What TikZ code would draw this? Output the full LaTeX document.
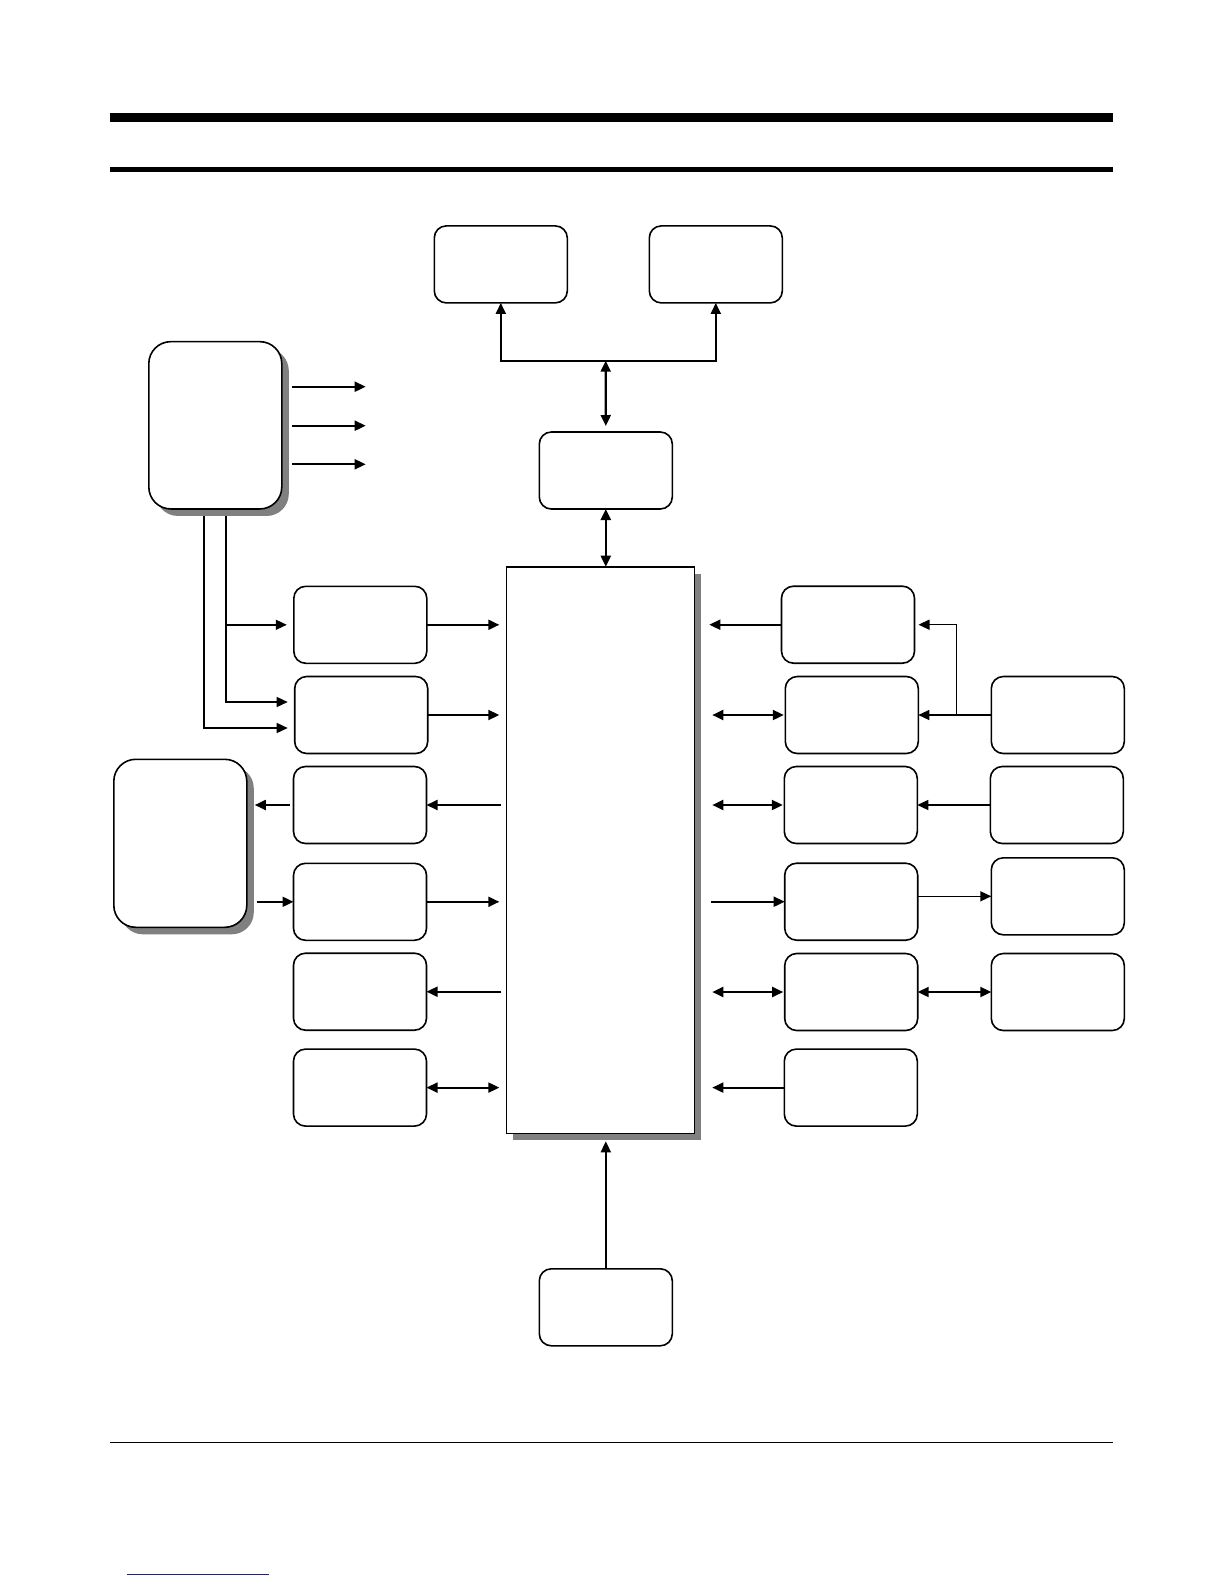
\documentclass[tikz,border=0pt]{standalone}
\usetikzlibrary{arrows.meta,calc,shadows}
\definecolor{shadowgray}{RGB}{128,128,128}
\definecolor{linkblue}{RGB}{30,30,140}
\begin{document}
\begin{tikzpicture}[x=1pt,y=-1pt,
  box/.style={draw, line width=1.6pt, rounded corners=12pt, fill=white,
    minimum width=133pt, minimum height=77pt, inner sep=0pt, outer sep=0pt},
  bigbox/.style={draw, line width=1.6pt, rounded corners=22pt, fill=white,
    minimum width=133pt, minimum height=168pt, inner sep=0pt, outer sep=0pt,
    drop shadow={shadow xshift=7pt, shadow yshift=-7pt, fill=shadowgray, opacity=1}},
  mainbox/.style={draw, line width=1.6pt, fill=white,
    minimum width=188pt, minimum height=566.6pt, inner sep=0pt, outer sep=0pt,
    drop shadow={shadow xshift=7pt, shadow yshift=-7pt, fill=shadowgray, opacity=1}},
  arr/.style={line width=1.9pt, -{Triangle[length=11pt,width=10pt]}},
  darr/.style={line width=2.1pt, {Triangle[length=11pt,width=10pt]}-{Triangle[length=11pt,width=10pt]}},
  thin/.style={line width=1.4pt}
]
\useasboundingbox (0,0) rectangle (1224,1584);
% page rules
\fill (110,113) rectangle (1113,122);
\fill (110,166.7) rectangle (1113,172);
\draw[line width=1.2pt] (110,1442.3) -- (1113,1442.3);
\draw[linkblue, line width=1.5pt] (127,1574.7) -- (269,1574.7);

% nodes
\node[box] (topA) at (500.8,264.4) {};
\node[box] (topB) at (715.8,264.4) {};
\node[box] (C) at (605.8,470.5) {};
\node[mainbox] (main) at (600.3,850) {};
\node[box] (BT) at (605.8,1307.3) {};
\node[bigbox, minimum height=167.3pt] (P) at (215.3,425.3) {};
\node[bigbox] (Q) at (180.3,843.3) {};

\node[box] (L1) at (360.3,624.8) {};
\node[box] (L2) at (361.2,715) {};
\node[box] (L3) at (360,805) {};
\node[box] (L4) at (360,901.8) {};
\node[box] (L5) at (360,991.7) {};
\node[box] (L6) at (360,1087.6) {};

\node[box] (R1) at (848,624.7) {};
\node[box] (R2) at (851.8,715) {};
\node[box] (R3) at (850.8,805) {};
\node[box] (R4) at (851.2,901.7) {};
\node[box] (R5) at (851.2,992) {};
\node[box] (R6) at (850.8,1087.6) {};

\node[box] (RR2) at (1057.8,715) {};
\node[box] (RR3) at (1056.8,805) {};
\node[box] (RR4) at (1057.8,896.3) {};
\node[box] (RR5) at (1057.8,992) {};

% top bus
\coordinate (bus) at (605.7,360.7);
\draw[arr] (bus) -| (topA.south);
\draw[arr] (bus) -| (topB.south);
\draw[darr, shorten >=6pt] (bus) -- (C.north);
\draw[darr] (C.south) -- (C.south |- main.north);

% power box outputs
\coordinate (p1) at (365.7,386.7);
\coordinate (p2) at (365.7,425.7);
\coordinate (p3) at (365.7,464.3);
\draw[arr, shorten <=10.6pt] (P.east |- p1) -- (p1);
\draw[arr, shorten <=10.6pt] (P.east |- p2) -- (p2);
\draw[arr, shorten <=10.6pt] (P.east |- p3) -- (p3);

% power box feeds
\coordinate (j1) at ($(P.south)+(10.7,7)$);
\coordinate (j2) at ($(P.south)+(-11.3,7)$);
\draw[arr, thin, shorten >=7pt] (j1) |- ($(L2.west)+(0,-13)$);
\draw[arr, thin, shorten >=7pt] (j1 |- L1.west) -- (L1.west);
\draw[arr, thin, shorten >=7pt] (j2) |- ($(L2.west)+(0,13)$);

% left column to main
\draw[arr, shorten >=7pt] (L1.east) -- (L1.east -| main.west);
\draw[arr, shorten >=7pt] (L2.east) -- (L2.east -| main.west);
\draw[arr, shorten <=5pt] (L3.east -| main.west) -- (L3.east);
\draw[arr, shorten >=7pt] (L4.east) -- (L4.east -| main.west);
\draw[arr, shorten <=5pt] (L5.east -| main.west) -- (L5.east);
\draw[darr, shorten >=7pt] (L6.east) -- (L6.east -| main.west);

% Q box
\draw[arr, shorten <=4pt, shorten >=8pt] (L3.west) -- (L3.west -| Q.east);
\draw[arr, shorten <=10pt] (L4.west -| Q.east) -- (L4.west);

% right column to main
\draw[arr, shorten >=15pt] (R1.west) -- (R1.west -| main.east);
\draw[darr, shorten <=1.5pt, shorten >=18pt] (R2.west) -- (R2.west -| main.east);
\draw[darr, shorten <=1.5pt, shorten >=18pt] (R3.west) -- (R3.west -| main.east);
\draw[arr, shorten <=17pt] (R4.west -| main.east) -- (R4.west);
\draw[darr, shorten <=1.5pt, shorten >=18pt] (R5.west) -- (R5.west -| main.east);
\draw[arr, shorten >=18pt] (R6.west) -- (R6.west -| main.east);

% far right
\coordinate (jr) at ($(RR2.west)+(-34.6,0)$);
\draw[arr, thin] (RR2.west) -- (R2.east);
\draw[arr, thin, shorten >=4pt] (jr) |- (R1.east);
\draw[arr, thin] (RR3.west) -- (R3.east);
\draw[arr, thin] (R4.east |- RR4.west) -- (RR4.west);
\draw[darr] (R5.east) -- (RR5.west);

% bottom
\draw[arr, shorten >=8pt] (BT.north) -- (BT.north |- main.south);
\end{tikzpicture}
\end{document}
